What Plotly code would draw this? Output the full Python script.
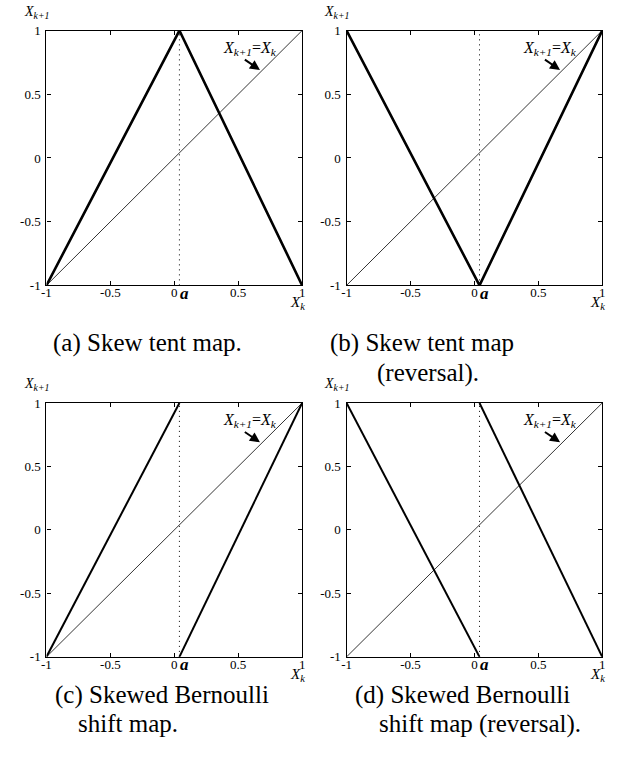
import plotly.graph_objects as go

# skew point of the maps
a = 0.04

ticks = [-1, -0.5, 0, 0.5, 1]
tick_text = ["-1", "-0.5", "0", "0.5", "1"]

diag_x = [-1, 1]
diag_y = [-1, 1]

tent_x = [-1, a, 1]
tent_y = [-1, 1, -1]
tent_rev_y = [1, -1, 1]

bern_x = [-1, a, None, a, 1]
bern_y = [-1, 1, None, -1, 1]
bern_rev_y = [1, -1, None, 1, -1]

captions = {
    "a": ["(a) Skew tent map."],
    "b": ["(b) Skew tent map", "(reversal)."],
    "c": ["(c) Skewed Bernoulli", "shift map."],
    "d": ["(d) Skewed Bernoulli", "shift map (reversal)."],
}

W, H = 624, 757
TICKFONT = dict(family="Liberation Serif, serif", size=13, color="black")
SERIF = "Liberation Serif, serif"


def px_x(p):
    return p / W


def px_y(p):
    return 1 - p / H


# panel boxes in page pixels: left, right, top, bottom
boxes = [(42, 301, 24, 284), (346, 605, 24, 284), (42, 301, 404, 663), (346, 605, 404, 663)]

panels = [
    (tent_x, tent_y, 2.6),
    (tent_x, tent_rev_y, 2.6),
    (bern_x, bern_y, 2.0),
    (bern_x, bern_rev_y, 2.0),
]

fig = go.Figure()
layout = {}
annotations = []

for i, ((l, r, t, b), (mx, my, lw)) in enumerate(zip(boxes, panels)):
    n = "" if i == 0 else str(i + 1)
    xa, ya = "x" + n, "y" + n
    # diagonal
    fig.add_trace(go.Scatter(x=diag_x, y=diag_y, mode="lines", xaxis=xa, yaxis=ya,
                             line=dict(color="black", width=0.8), showlegend=False, hoverinfo="skip"))
    # dotted line at a
    fig.add_trace(go.Scatter(x=[a, a], y=[-1, 1], mode="lines", xaxis=xa, yaxis=ya,
                             line=dict(color="black", width=1, dash="1px,4px"), showlegend=False,
                             hoverinfo="skip"))
    # the map
    fig.add_trace(go.Scatter(x=mx, y=my, mode="lines", xaxis=xa, yaxis=ya,
                             line=dict(color="black", width=lw), showlegend=False, hoverinfo="skip"))

    common = dict(range=[-1, 1], tickvals=ticks, ticktext=tick_text, ticks="inside", ticklen=4,
                  tickcolor="black", showline=True, linecolor="black", linewidth=1.3, mirror="ticks",
                  showgrid=False, zeroline=False, tickfont=TICKFONT)
    layout["xaxis" + n] = dict(common, domain=[px_x(l), px_x(r)], anchor=ya, ticklabelstandoff=-5)
    layout["yaxis" + n] = dict(common, domain=[px_y(b), px_y(t)], anchor=xa, ticklabelstandoff=2)

    # axis labels
    annotations.append(dict(x=-1, y=1, xref=xa, yref=ya, yshift=8, xshift=-10, yanchor="bottom",
                            text="<i>X</i><sub><i>k+1</i></sub>", showarrow=False,
                            font=dict(family=SERIF, size=14, color="black")))
    annotations.append(dict(x=1, y=-1, xref=xa, yref=ya, yshift=-7, xshift=-5, yanchor="top",
                            text="<i>X</i><sub><i>k</i></sub>", showarrow=False,
                            font=dict(family=SERIF, size=15, color="black")))
    # bold a below the axis
    annotations.append(dict(x=a, y=-1, xref=xa, yref=ya, yshift=-8, xshift=5,
                            text="<b><i>a</i></b>", showarrow=False,
                            font=dict(family=SERIF, size=17, color="black")))
    # X_{k+1}=X_k label with arrow
    annotations.append(dict(x=0.59, y=0.86, xref=xa, yref=ya,
                            text="<i>X</i><sub><i>k+1</i></sub>=<i>X</i><sub><i>k</i></sub>",
                            showarrow=False, font=dict(family=SERIF, size=16, color="black")))
    annotations.append(dict(x=0.67, y=0.69, ax=0.54, ay=0.78, xref=xa, yref=ya, axref=xa, ayref=ya,
                            text="", showarrow=True, arrowhead=2, arrowsize=1, arrowwidth=2,
                            arrowcolor="black"))

# caption line positions in page pixels (left edge, middle)
cap_pos = {
    "a": [(47, 343)],
    "b": [(327, 343), (375, 373)],
    "c": [(49, 702), (72, 731)],
    "d": [(353, 702), (377, 731)],
}
for key, lines in captions.items():
    for txt, (px, py) in zip(lines, cap_pos[key]):
        annotations.append(dict(x=px_x(px), y=px_y(py), xref="paper", yref="paper", xanchor="left",
                                yanchor="middle", text=txt, showarrow=False,
                                font=dict(family=SERIF, size=25, color="black")))

fig.update_layout(**layout)
fig.update_layout(width=W, height=H, margin=dict(l=0, r=0, t=0, b=0), paper_bgcolor="white",
                  plot_bgcolor="white", annotations=annotations)

# drop the default body margin so the figure fills the window exactly
fig.write_html("out.html", config={"displayModeBar": False},
               post_script="document.body.style.margin = '0px';")
